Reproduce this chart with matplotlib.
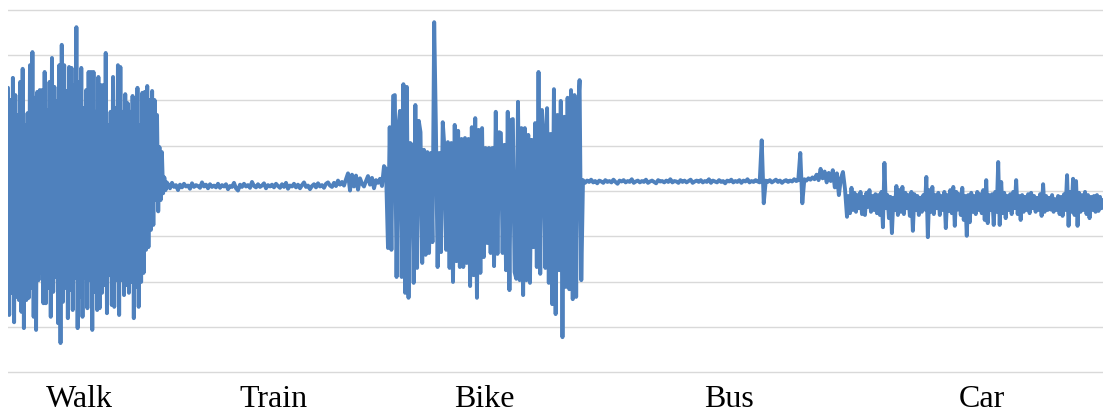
import numpy as np
import matplotlib
matplotlib.use("Agg")
from matplotlib import pyplot as plt

# transport modes, in recording order
modes = ["Walk", "Train", "Bike", "Bus", "Car"]

# signal magnitude per mode (grid step = 10)
walk = [
    62.8, 12.6, 60.1, 17.5, 65.0, 11.0, 61.2, 16.6, 56.8, 15.9,
    64.1, 13.3, 67.0, 9.7, 54.6, 15.9, 57.2, 16.4, 67.8, 18.6,
    70.7, 12.2, 60.6, 9.3, 61.9, 20.3, 62.3, 21.9, 62.3, 15.2,
    66.3, 15.2, 57.9, 18.6, 64.1, 12.2, 69.4, 17.7, 63.0, 21.0,
    59.9, 10.8, 67.8, 6.4, 72.3, 15.5, 67.8, 18.6, 62.1, 11.9,
    67.4, 18.1, 67.2, 13.7, 63.4, 20.8, 76.2, 9.7, 64.1, 16.6,
    67.2, 12.2, 58.3, 20.8, 62.3, 14.1, 66.3, 20.3, 66.3, 9.3,
    66.3, 17.7, 57.5, 13.7, 65.2, 14.1, 63.4, 17.5, 63.4, 19.2,
    70.5, 13.0, 54.6, 21.4, 57.5, 14.8, 65.2, 14.4, 58.3, 20.3,
    67.8, 12.6, 67.4, 20.3, 57.5, 17.0, 61.4, 19.2, 59.4, 17.5,
    57.5, 19.9, 61.0, 11.9, 60.1, 18.8, 62.8, 14.4, 54.6, 19.9,
    61.7, 21.9, 61.9, 27.0, 63.2, 27.6, 60.1, 31.4, 62.1, 32.5,
    60.1, 38.0, 56.8, 35.5, 49.7, 38.0, 48.6, 39.5, 43.0, 40.2, 41.9,
]
train = [
    41.5, 40.6, 41.8, 40.9, 41.3, 40.2, 41.4, 40.8, 41.6, 41.0,
    41.2, 40.5, 41.7, 40.9, 41.3, 41.1, 40.7, 41.9, 41.0, 41.4,
    40.6, 41.5, 40.9, 41.2, 40.8, 41.6, 40.7, 41.3, 41.0, 41.5,
    40.4, 41.1, 40.9, 41.8, 40.6, 40.1, 41.4, 40.9, 41.6, 41.0,
    41.3, 40.7, 42.0, 41.1, 40.8, 41.5, 40.9, 41.2, 41.7, 40.6,
    41.3, 41.0, 41.4, 40.8, 41.6, 41.1, 40.7, 41.5, 40.9, 41.8,
    40.5, 41.2, 41.0, 41.6, 40.8, 41.4, 40.6, 41.3, 41.9, 40.9,
    41.2, 40.4, 41.1, 41.5, 40.8, 41.7, 41.0, 41.3, 40.7, 41.6,
    41.9, 41.2, 40.9, 41.8, 41.1, 42.3, 41.4, 42.0, 41.2, 42.6,
    43.9, 40.1, 43.6, 41.0, 43.4, 40.3, 42.8, 41.6, 41.0, 42.2,
    43.3, 41.4, 42.9, 40.6, 42.4, 41.8, 42.7, 41.1, 45.5, 44.8,
]
bike = [
    27.4, 54.1, 27.0, 61.0, 61.2, 21.0, 54.1, 57.7, 21.0, 63.6,
    17.5, 63.0, 16.4, 50.6, 50.2, 19.7, 59.0, 23.0, 55.5, 53.0,
    24.1, 49.1, 25.9, 48.6, 26.3, 48.4, 28.7, 77.3, 54.1, 23.2,
    48.4, 26.5, 55.2, 49.5, 27.0, 50.8, 23.0, 50.6, 19.9, 54.6,
    24.5, 53.3, 23.2, 51.5, 23.2, 51.7, 24.1, 51.5, 19.0, 54.1,
    21.4, 56.1, 16.4, 53.5, 21.9, 53.9, 25.4, 49.5, 28.5, 49.5,
    26.3, 49.5, 23.4, 57.5, 26.1, 53.0, 52.8, 26.3, 50.2, 22.5,
    57.5, 18.1, 55.7, 55.9, 22.1, 20.6, 59.7, 20.3, 53.9, 17.0,
    53.9, 20.3, 52.4, 19.7, 51.3, 27.6, 55.0, 23.2, 66.3, 21.7,
    57.9, 52.8, 23.0, 58.3, 19.7, 52.6, 15.0, 62.5, 12.8, 56.8,
    22.5, 59.9, 7.7, 56.4, 18.8, 60.6, 18.3, 62.3, 16.1, 61.2,
    16.6, 56.8, 64.5, 20.3,
]
bus = [
    42.4, 41.8, 42.3, 42.0, 42.5, 41.9, 42.2, 41.7, 42.3, 42.1,
    41.8, 42.4, 42.0, 42.2, 41.9, 42.5, 42.0, 41.6, 42.3, 42.1,
    42.4, 41.9, 42.2, 42.0, 42.6, 41.8, 42.1, 42.3, 41.9, 42.2,
    42.0, 42.5, 41.8, 42.1, 42.3, 42.0, 41.7, 42.4, 42.1, 42.2,
    41.9, 42.3, 42.0, 42.6, 41.9, 42.2, 42.1, 41.8, 42.4, 42.0,
    42.3, 41.9, 42.2, 42.5, 41.8, 42.1, 42.3, 42.0, 42.4, 41.9,
    42.2, 42.0, 42.6, 41.8, 42.3, 42.1, 41.9, 42.4, 42.0, 42.2,
    41.7, 42.3, 42.1, 42.5, 41.9, 42.2, 42.0, 42.4, 41.8, 42.3,
    42.1, 42.6, 41.9, 42.2, 42.0, 42.4, 42.1, 41.9, 51.2, 37.3,
    42.3, 42.0, 42.4, 41.9, 42.2, 42.5, 42.0, 42.3, 41.8, 42.2,
    42.4, 42.0, 42.3, 42.1, 42.6, 42.2, 42.4, 48.4, 37.3, 42.6,
    42.3, 42.8, 42.5, 43.0, 42.6, 43.6, 42.4, 44.9, 42.8, 44.3,
    41.9, 44.0, 42.2, 44.6, 40.8, 43.9, 39.1, 42.8, 44.2, 40.5,
]
car = [
    34.3, 38.9, 35.1, 40.7, 35.8, 39.6, 35.4, 39.1, 36.2, 39.8,
    34.9, 38.7, 34.7, 39.6, 36.5, 40.2, 35.4, 38.9, 35.8, 39.3,
    35.1, 39.1, 34.7, 39.8, 32.0, 46.2, 36.2, 39.1, 34.0, 38.7,
    30.7, 38.5, 35.8, 41.1, 34.7, 40.2, 35.4, 40.9, 34.9, 39.6,
    36.2, 39.1, 34.5, 39.8, 31.2, 39.3, 35.8, 38.9, 34.7, 38.5,
    35.4, 39.1, 35.9, 43.1, 29.8, 40.2, 35.4, 40.9, 34.9, 39.1,
    36.2, 39.6, 34.7, 38.9, 35.8, 39.8, 31.8, 39.1, 35.6, 40.2,
    35.1, 40.9, 32.3, 39.8, 35.9, 39.3, 34.7, 40.7, 33.6, 38.9,
    30.1, 39.1, 33.1, 39.6, 35.4, 38.9, 34.9, 39.8, 35.8, 39.3,
    35.1, 40.2, 33.6, 42.4, 32.9, 39.1, 35.8, 39.3, 32.5, 39.8,
    35.4, 46.4, 32.5, 42.0, 35.1, 39.6, 34.0, 38.9, 35.8, 39.3,
    34.9, 39.8, 36.2, 42.4, 34.9, 38.9, 33.6, 39.1, 35.4, 38.7,
    35.8, 39.3, 35.1, 39.6, 36.2, 38.9, 35.4, 38.5, 35.8, 39.3,
    34.5, 41.5, 35.4, 38.9, 35.8, 38.5, 35.9, 39.1, 35.4, 38.2,
    35.8, 38.9, 34.9, 38.7, 34.5, 39.3, 35.8, 43.5, 32.3, 39.8,
    35.4, 42.7, 34.7, 42.2, 32.3, 39.6, 35.4, 39.1, 35.8, 39.8,
    34.9, 39.1, 34.0, 38.7, 35.8, 38.9, 35.4, 39.1, 35.6, 38.7,
    36.2, 38.0,
]
segments = [walk, train, bike, bus, car]

# time span of each mode and where its name sits on the axis
mode_edges = [0, 160, 380, 575, 839, 1095]
label_pos = [71, 266, 476, 721, 974]

xs, ys = [], []
for i, seg in enumerate(segments):
    last = i == len(segments) - 1
    xs.append(np.linspace(mode_edges[i], mode_edges[i + 1], len(seg), endpoint=last))
    ys.append(np.asarray(seg, dtype=float))
x = np.concatenate(xs)
y = np.concatenate(ys)

fig = plt.figure(figsize=(11.03, 4.13), dpi=100)
ax = fig.add_axes([8 / 1103, 1 - 374.3 / 413, 1095 / 1103, 366.6 / 413])

ax.plot(x, y, color="#4F81BD", lw=2.8, solid_joinstyle="round", solid_capstyle="round")

ax.set_xlim(mode_edges[0], mode_edges[-1])
ax.set_ylim(-0.5, 80.5)
ax.set_yticks(np.arange(0, 81, 10))
ax.set_yticklabels([])
ax.yaxis.grid(True, color="#D9D9D9", lw=1.0)
ax.set_axisbelow(True)
ax.tick_params(axis="y", length=0)

ax.set_xticks(label_pos)
ax.set_xticklabels(modes, fontfamily="Liberation Serif", fontsize=23)
ax.tick_params(axis="x", length=0, pad=7.5)

for s in ax.spines.values():
    s.set_visible(False)

fig.savefig("out.png", dpi=100)
